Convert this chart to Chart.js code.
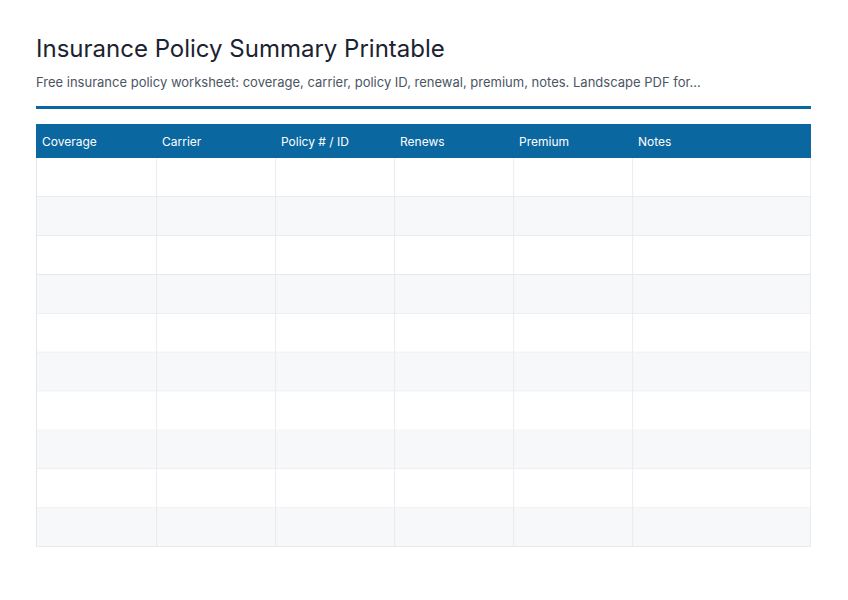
<!DOCTYPE html>
<html>
<head>
<meta charset="utf-8">
<script src="https://cdn.jsdelivr.net/npm/chart.js@4"></script>
<style>
  body { margin: 0; background: #fff; font-family: Inter, "Noto Sans", sans-serif; }
  #title { position: absolute; left: 36px; top: 34px; font-size: 24px; color: #1b2230; }
  #sub { position: absolute; left: 36px; top: 74px; font-size: 13px; color: #4b5563; }
  #rule { position: absolute; left: 36px; top: 106px; width: 775px; height: 3px; background: #0a67a0; }
  #head { position: absolute; left: 36px; top: 124px; width: 775px; height: 34px; background: #0a67a0; }
  #head span { position: absolute; top: 10px; font-size: 12px; color: #fff; }
  #wrap { position: absolute; left: 36px; top: 158px; border-left: 1px solid #e3e6ea; }
</style>
</head>
<body>
<div id="title">Insurance Policy Summary Printable</div>
<div id="sub">Free insurance policy worksheet: coverage, carrier, policy ID, renewal, premium, notes. Landscape PDF for...</div>
<div id="rule"></div>
<div id="head"></div>
<div id="wrap"><canvas id="grid" width="774" height="389"></canvas></div>
<script>
var columns = ["Coverage", "Carrier", "Policy # / ID", "Renews", "Premium", "Notes"];
var columnWidths = [120, 119, 119, 119, 119, 178];
var rows = ["1", "2", "3", "4", "5", "6", "7", "8", "9", "10"];

// header labels
var head = document.getElementById("head");
var x = 0;
columns.forEach(function(c, i){
    var s = document.createElement("span");
    s.textContent = c;
    s.style.left = (x + 6) + "px";
    head.appendChild(s);
    x += columnWidths[i];
});

var rowColors = rows.map(function(r, i){ return i % 2 ? "#f7f8fa" : "#ffffff"; });

var datasets = columns.map(function(c, i){
    return {
        label: c,
        data: rows.map(function(){ return columnWidths[i]; }),
        backgroundColor: rowColors,
        borderColor: "#e3e6ea",
        borderWidth: { right: 1, bottom: 1, top: 0, left: 0 },
        borderSkipped: false,
        barPercentage: 1,
        categoryPercentage: 1
    };
});

var ctx = document.getElementById("grid").getContext("2d");
new Chart(ctx, {
    type: "bar",
    data: { labels: rows, datasets: datasets },
    options: {
        indexAxis: "y",
        responsive: false,
        animation: false,
        layout: { padding: 0 },
        plugins: { legend: { display: false }, tooltip: { enabled: false } },
        scales: {
            x: { stacked: true, min: 0, max: 774, display: false },
            y: { stacked: true, display: false }
        }
    }
});
</script>
</body>
</html>
